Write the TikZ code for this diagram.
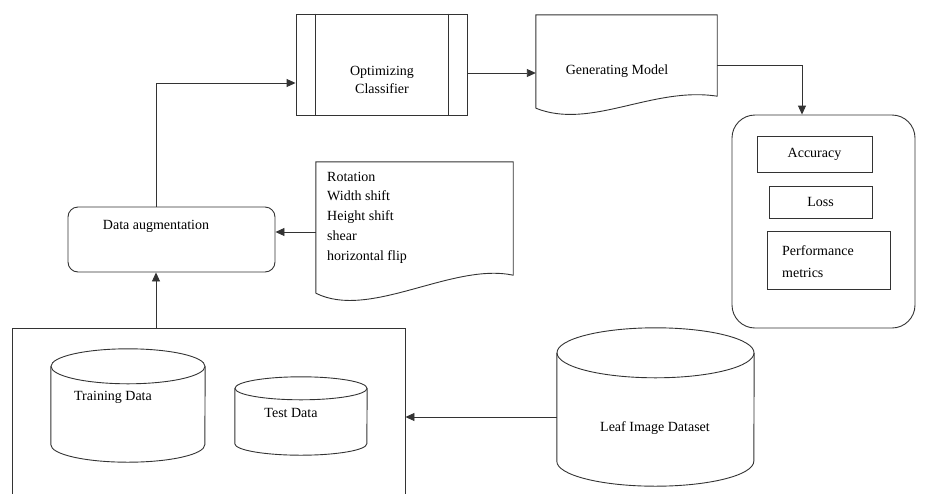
\documentclass[tikz,border=0pt]{standalone}
\usepackage{fontspec}
\setmainfont{Liberation Serif}
\usetikzlibrary{arrows.meta,calc,positioning,shapes.geometric}

% cylinder drawn round a named (invisible) node: name, x radius, y radius
\newcommand{\dbcyl}[3]{%
\draw[line] ([yshift=-#3]#1.north) ellipse [x radius=#2, y radius=#3];
\draw[line] ([yshift=-#3]#1.north west) -- ([yshift=#3]#1.south west)
  arc[start angle=180, end angle=360, x radius=#2, y radius=#3]
  -- ([yshift=-#3]#1.north east);}

\begin{document}
\begin{tikzpicture}[x=1pt,y=-1pt,
every node/.style={font=\fontsize{14}{18}\selectfont, inner sep=0pt},
line/.style={draw=black!80, line width=0.9pt},
box/.style={line, rectangle},
rbox/.style={line, rectangle, rounded corners=#1},
hold/.style={rectangle},
arr/.style={line, -{Triangle[length=9pt,width=8pt]}}]
\useasboundingbox (0,0) rectangle (928,493);

% top row
\node[box, minimum width=171, minimum height=101] (opt) at (381.5,64.5) {};
\draw[line] ([xshift=20pt]opt.north west) -- ([xshift=20pt]opt.south west);
\draw[line] ([xshift=-19pt]opt.north east) -- ([xshift=-19pt]opt.south east);
\node[align=center, font=\fontsize{14}{18}\selectfont] (opttxt) at (382,80) {Optimizing\\Classifier};

\node[hold, minimum width=181, minimum height=93] (gen) at (626.5,61.5) {};
\draw[line] (gen.south west) -- (gen.north west) -- (gen.north east)
  -- ([yshift=12pt]gen.south east) .. controls +(-65,-10) and +(55,22) .. (gen.south west);
\node (gentxt) at (617,71) {Generating Model};

% results
\node[rbox=23pt, minimum width=183, minimum height=213] (res) at (823.5,221.5) {};
\node[box, minimum width=115, minimum height=36] (acc) at (814.5,154) {Accuracy};
\node[box, minimum width=103, minimum height=32] (loss) at (820.5,202) {Loss};
\node[box, minimum width=123, minimum height=58] (perf) at (828.5,260) {};
\node[anchor=west, align=left, font=\fontsize{14}{22}\selectfont] (perftxt) at (782,261.5) {Performance\\metrics};

% augmentation
\node[rbox=10pt, minimum width=207, minimum height=65] (data) at (171.5,239.5) {};
\node (datatxt) at (156,226) {Data augmentation};

\node[hold, minimum width=197, minimum height=131] (aug) at (414.5,227.5) {};
\draw[line] (aug.south west) -- (aug.north west) -- (aug.north east)
  -- ([yshift=18pt]aug.south east) .. controls +(-61,-13) and +(54,27) .. (aug.south west);
\node[anchor=west, align=left, font=\fontsize{14}{19.75}\selectfont] (augtxt) at (327,217.5)
  {Rotation\\Width shift\\Height shift\\shear\\horizontal flip};

% data store
\node[box, minimum width=393, minimum height=172] (store) at (208.5,414) {};
\node[hold, minimum width=154, minimum height=113] (train) at (128,405.5) {};
\dbcyl{train}{77pt}{17.5pt}
\node (traintxt) at (113,397) {Training Data};
\node[hold, minimum width=132, minimum height=78] (test) at (301,416) {};
\dbcyl{test}{66pt}{11.5pt}
\node (testtxt) at (291,413) {Test Data};

\node[hold, minimum width=197, minimum height=158] (leaf) at (655.5,407) {};
\dbcyl{leaf}{98.5pt}{25pt}
\node (leaftxt) at (655,428) {Leaf Image Dataset};

% connectors
\draw[arr] ([xshift=-15.5pt]data.north) |- ([yshift=-18.5pt]opt.west);
\draw[arr] ([yshift=-8.5pt]opt.east) -- ([yshift=-8.5pt]opt.east -| gen.west);
\draw[arr] ([yshift=-3.5pt]gen.east) -| ([xshift=-21.5pt]res.north);
\draw[arr] ([yshift=-4.5pt]aug.west) -- ([yshift=-4.5pt]aug.west -| data.east);
\draw[arr] ([xshift=-15.5pt]data.south |- store.north) -- ([xshift=-15.5pt]data.south);
\draw[arr] ([yshift=-10pt]leaf.west) -- ([yshift=-10pt]leaf.west -| store.east);
\end{tikzpicture}
\end{document}
